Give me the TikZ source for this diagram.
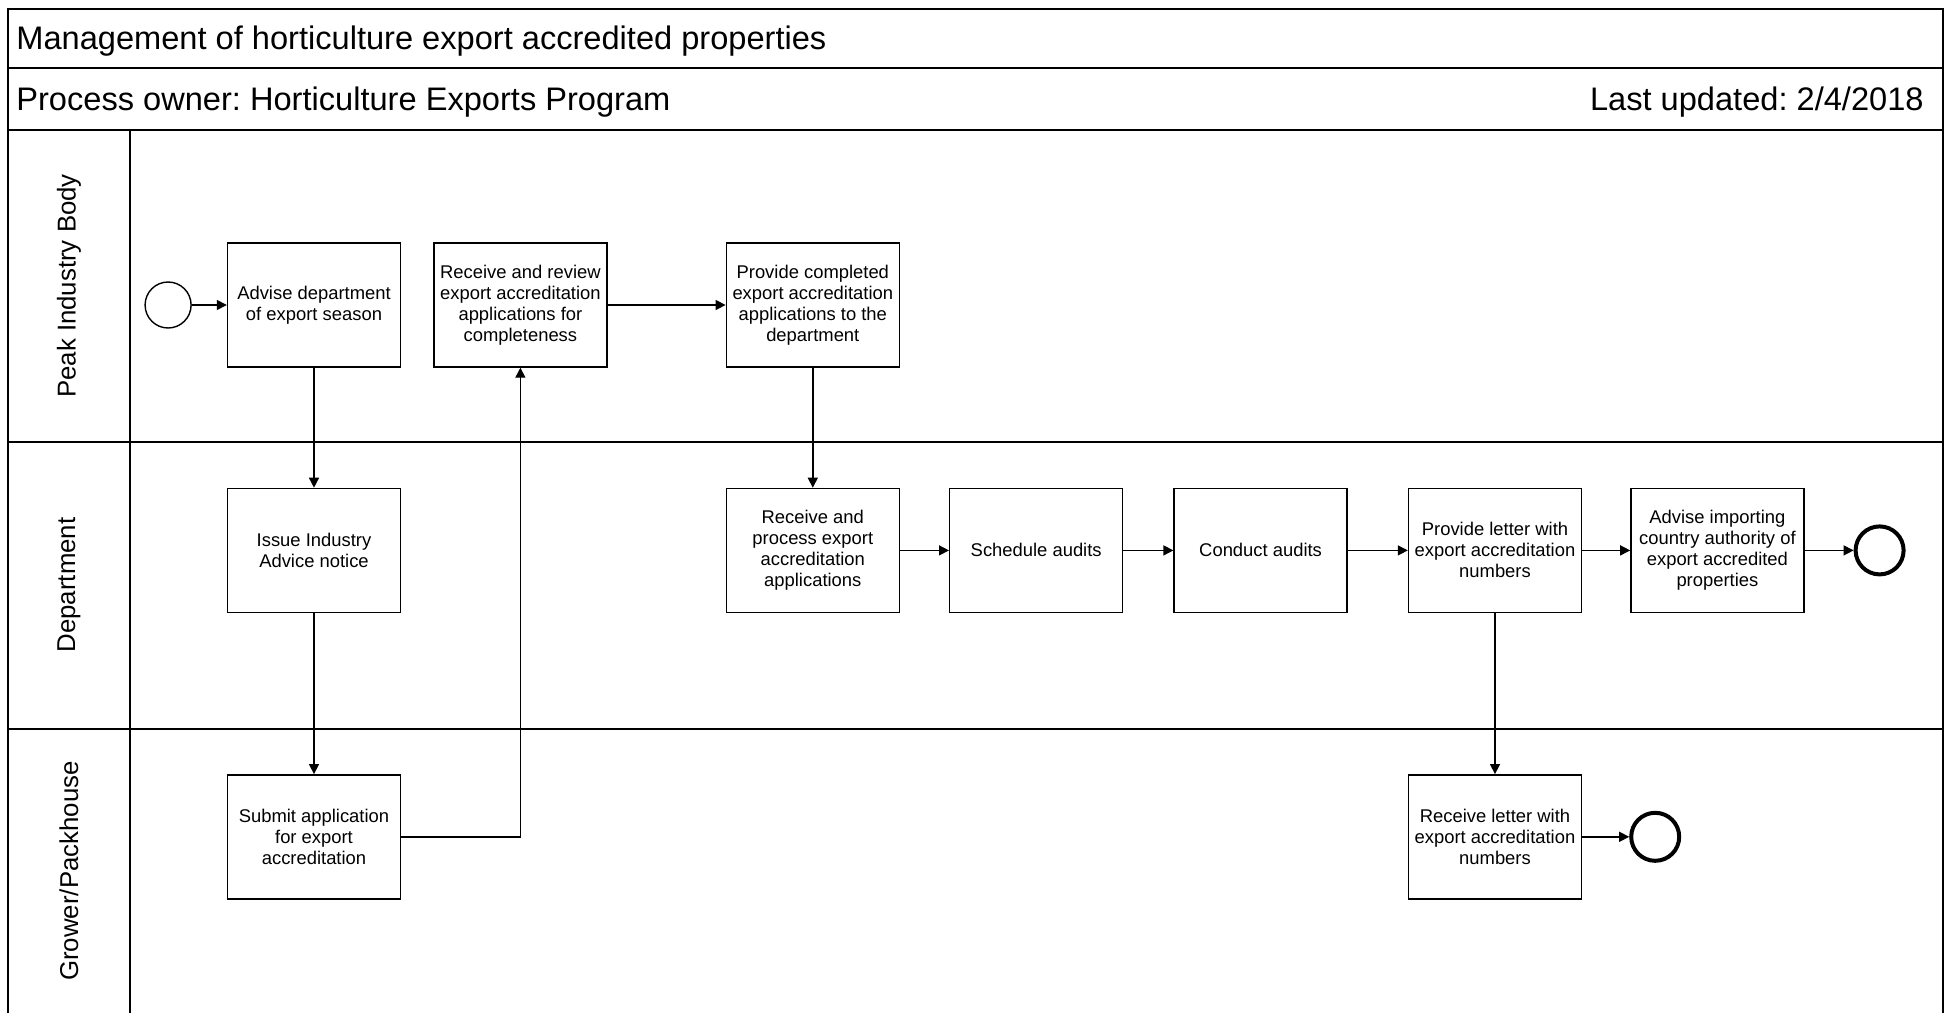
\documentclass[tikz,border=0pt]{standalone}
\usepackage{fontspec}
\setmainfont{Liberation Sans}
\usetikzlibrary{arrows.meta,positioning}
\frenchspacing

\begin{document}
\begin{tikzpicture}[
        x=0.5pt, y=-0.5pt,
        node distance=60pt and 24.5pt,
        task/.style={draw, line width=0.7pt, align=center, minimum width=86.5pt, minimum height=62pt, inner sep=2pt, font=\fontsize{9.2}{10.5}\selectfont},
        startev/.style={draw, circle, line width=0.7pt, minimum size=23pt, inner sep=0pt},
        endev/.style={draw, circle, line width=2pt, minimum size=24pt, inner sep=0pt},
        lane/.style={rotate=90, inner sep=0pt, font=\fontsize{12.9}{15}\selectfont},
        head/.style={inner sep=0pt, font=\fontsize{16.3}{19}\selectfont},
        frame/.style={line width=0.8pt},
        line/.style={-{Triangle[length=5pt, width=5pt]}, line width=0.7pt}
    ]
        \useasboundingbox (0,0) rectangle (1950,1013);

        % pool, header rows and lanes
        \draw[frame] (8,1013) -- (8,9) -- (1943,9) -- (1943,1013);
        \draw[frame] (8,68) -- (1943,68);
        \draw[frame] (8,130) -- (1943,130);
        \draw[frame] (8,442) -- (1943,442);
        \draw[frame] (8,729) -- (1943,729);
        \draw[frame] (130,130) -- (130,1013);

        \node[head, anchor=base west] (title) at (16,49) {Management of horticulture export accredited properties};
        \node[head, anchor=base west] (owner) at (16,110) {Process owner: Horticulture Exports Program};
        \node[head, anchor=base east] (updated) at (1924,110) {Last updated: 2/4/2018};

        \node[lane] (peaklane) at (69,286) {Peak Industry Body};
        \node[lane] (deptlane) at (69,585) {Department};
        \node[lane] (growerlane) at (69,871) {Grower/Packhouse};

        % tasks
        \node[task] (advise) at (314,305) {Advise department\\of export season};
        \node[startev, left=17.5pt of advise] (start) {};
        \node[task, right=16pt of advise] (review) {Receive and review\\export accreditation\\applications for\\completeness};
        \node[task, right=59pt of review] (provide) {Provide completed\\export accreditation\\applications to the\\department};
        \node[task, below=of advise] (notice) {Issue Industry\\Advice notice};
        \node[task, below=80.5pt of notice] (submit) {Submit application\\for export\\accreditation};
        \node[task, below=of provide] (process) {Receive and\\process export\\accreditation\\applications};
        \node[task, right=of process] (schedule) {Schedule audits};
        \node[task, right=25pt of schedule] (conduct) {Conduct audits};
        \node[task, right=30pt of conduct] (letter) {Provide letter with\\export accreditation\\numbers};
        \node[task, right=24pt of letter] (importing) {Advise importing\\country authority of\\export accredited\\properties};
        \node[endev, right=of importing] (enddept) {};
        \node[task, below=80.5pt of letter] (receive) {Receive letter with\\export accreditation\\numbers};
        \node[endev, right=23.5pt of receive] (endgrower) {};

        % flows
        \draw[line] (start) -- (advise);
        \draw[line] (advise) -- (notice);
        \draw[line] (notice) -- (submit);
        \draw[line] (submit.east) -| (review.south);
        \draw[line] (review) -- (provide);
        \draw[line] (provide) -- (process);
        \draw[line] (process) -- (schedule);
        \draw[line] (schedule) -- (conduct);
        \draw[line] (conduct) -- (letter);
        \draw[line] (letter) -- (importing);
        \draw[line] (importing) -- (enddept);
        \draw[line] (letter) -- (receive);
        \draw[line] (receive) -- (endgrower);
    \end{tikzpicture}
\end{document}
